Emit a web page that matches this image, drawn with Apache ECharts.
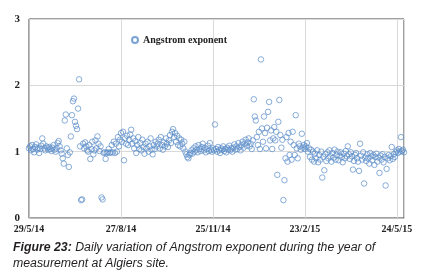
<!DOCTYPE html>
<html>
<head>
<meta charset="utf-8">
<style>
  html, body { margin: 0; padding: 0; background: #fff; }
  #chart { width: 427px; height: 277px; }
</style>
<script src="https://cdn.jsdelivr.net/npm/echarts@6/dist/echarts.min.js"></script>
</head>
<body>
<div id="chart"></div>
<script>
// daily Angstrom exponent, day 0 = 29/5/14
var startDate = Date.UTC(2014, 4, 29);
var seriesName = 'Angstrom exponent';
var yTicks = [0, 1, 2, 3];
var angstrom = [
  1.05, 1.08, 1.02, 1.10, 1.04, 0.99, 1.07, 1.11, 1.03, 1.06,
  0.98, 1.04, 1.09, 1.20, 1.12, 1.05, 1.02, 1.08, 1.06, 1.03,
  1.07, 1.04, 1.01, 1.06, 1.10, 1.03, 1.00, 1.05, 1.13, 1.16,
  1.08, 1.02, 0.97, 0.90, 0.82, 1.47, 1.56, 1.05, 0.95, 0.77,
  0.99, 1.23, 1.55, 1.76, 1.80, 1.45, 1.39, 1.34, 1.65, 2.09,
  1.08, 0.27, 0.28, 1.12, 1.05, 1.14, 1.08, 1.02, 1.00, 1.10,
  0.89, 1.04, 1.15, 0.96, 1.02, 1.17, 1.05, 1.23, 1.12, 1.01,
  1.08, 0.31, 0.28, 0.98, 0.99, 0.89, 0.98, 0.99, 1.04, 0.98,
  0.99, 1.10, 0.99, 1.15, 0.98, 1.12, 1.00, 1.22, 1.08, 1.18,
  1.28, 1.15, 1.30, 0.87, 1.20, 1.12, 1.24, 1.10, 1.18, 1.26,
  1.33, 1.12, 1.20, 1.05, 1.16, 0.98, 1.10, 1.22, 1.04, 1.13,
  1.02, 1.18, 1.07, 0.97, 1.12, 1.05, 1.15, 1.00, 1.08, 1.20,
  1.03, 0.96, 1.10, 1.04, 1.15, 1.08, 1.12, 1.18, 1.05, 1.22,
  1.10, 1.03, 1.14, 1.08, 1.20, 1.12, 1.07, 1.17, 1.25, 1.13,
  1.30, 1.34, 1.22, 1.28, 1.15, 1.24, 1.10, 1.20, 1.08, 1.18,
  1.12, 1.05, 1.15, 1.00, 0.96, 0.92, 0.90, 0.95, 0.98, 1.02,
  0.97, 1.05, 1.00, 1.08, 1.03, 0.99, 1.10, 1.04, 1.01, 1.07,
  1.12, 1.02, 1.06, 0.99, 1.04, 1.09, 1.01, 1.13, 1.03, 1.00,
  1.05, 1.02, 1.41, 1.04, 1.00, 1.07, 1.02, 0.98, 1.05, 1.03,
  1.08, 1.01, 1.04, 0.99, 1.06, 1.03, 1.09, 1.02, 1.05, 1.00,
  1.06, 1.11, 1.03, 1.08, 1.04, 1.13, 1.07, 1.02, 1.10, 1.15,
  1.06, 1.12, 1.18, 1.09, 1.14, 1.20, 1.08, 1.12, 1.04, 1.17,
  1.79, 1.53, 1.47, 1.22, 1.10, 1.30, 1.04, 2.39, 1.35, 1.15,
  1.53, 1.28, 1.05, 1.36, 1.60, 1.75, 1.17, 1.32, 1.04, 1.20,
  1.37, 1.17, 1.30, 0.65, 1.45, 1.78, 1.25, 1.06, 1.18, 0.27,
  0.57, 0.90, 1.22, 0.85, 1.28, 0.95, 1.15, 0.88, 1.30, 1.10,
  0.95, 1.55, 1.05, 0.90, 1.12, 1.08, 1.03, 1.27, 1.06, 1.10,
  1.04, 1.08, 1.13, 1.00, 1.05, 0.92, 1.03, 0.88, 1.00, 0.85,
  0.97, 0.90, 1.02, 0.84, 0.95, 0.88, 1.00, 0.61, 0.92, 0.72,
  0.96, 0.86, 0.99, 0.90, 1.02, 0.93, 0.85, 0.98, 0.91, 1.03,
  0.88, 0.95, 1.00, 0.87, 0.94, 0.99, 0.92, 0.84, 0.97, 0.90,
  1.01, 0.93, 1.08, 0.96, 0.89, 0.99, 0.93, 0.73, 0.86, 0.95,
  0.98, 0.90, 0.85, 0.71, 1.12, 0.94, 0.88, 0.99, 0.52, 0.91,
  0.86, 0.96, 0.90, 0.82, 0.98, 0.93, 0.87, 0.95, 0.80, 0.92,
  0.97, 0.85, 0.91, 0.68, 0.94, 0.88, 0.96, 0.84, 0.92, 0.49,
  0.74, 0.90, 0.95, 0.87, 0.93, 1.07, 0.89, 0.96, 0.92, 0.99,
  1.02, 0.98, 1.04, 1.00, 1.22, 1.01, 1.03, 0.99
];
var captionBold = 'Figure 23:';
var captionLine1 = ' Daily variation of Angstrom exponent during the year of';
var captionLine2 = 'measurement at Algiers site.';

var chart = echarts.init(document.getElementById('chart'));
var blue = '#5a8dc8';
var grey = '#d9d9d9';
var serif = '"Liberation Serif", "Times New Roman", serif';
var capFont = '"Liberation Sans", Arial, sans-serif';

function dayLabel(v) {
  if (v % 90 !== 0) return '';
  var d = new Date(startDate + v * 86400000);
  return d.getUTCDate() + '/' + (d.getUTCMonth() + 1) + '/' + String(d.getUTCFullYear()).slice(2);
}

chart.setOption({
  animation: false,
  grid: {
    left: 29, right: 23, top: 19, bottom: 59,
    show: true, borderColor: '#404040', borderWidth: 1
  },
  legend: {
    data: [seriesName],
    left: 126, top: 30,
    itemWidth: 6, itemHeight: 6, itemGap: 4,
    textStyle: { fontFamily: serif, fontWeight: 'bold', fontSize: 10, color: '#222' }
  },
  xAxis: {
    type: 'value',
    min: 0, max: 367, interval: 90,
    axisLine: { lineStyle: { color: '#bfbfbf' } },
    axisTick: { show: false },
    splitLine: { lineStyle: { color: grey } },
    axisLabel: {
      formatter: dayLabel, margin: 6,
      fontFamily: serif, fontWeight: 'bold', fontSize: 10, color: '#222'
    }
  },
  yAxis: {
    type: 'value',
    min: yTicks[0], max: yTicks[yTicks.length - 1], interval: 1,
    axisLine: { show: true, lineStyle: { color: '#bfbfbf' } },
    axisTick: { show: false },
    splitLine: { lineStyle: { color: grey } },
    axisLabel: { margin: 9, fontFamily: serif, fontWeight: 'bold', fontSize: 11, color: '#222' }
  },
  series: [{
    name: seriesName,
    type: 'scatter',
    symbol: 'circle',
    symbolSize: 5.5,
    itemStyle: { color: 'rgba(255,255,255,0)', borderColor: blue, borderWidth: 0.9 },
    data: angstrom.map(function(v, i) { return [i, v]; })
  }],
  graphic: [
    {
      type: 'text', left: 13, top: 242,
      style: {
        text: '{b|' + captionBold + '}' + captionLine1,
        font: 'italic 12.3px ' + capFont,
        fill: '#231f20',
        rich: { b: { fontWeight: 'bold', fontStyle: 'italic', fontSize: 12.3, fontFamily: capFont, fill: '#231f20' } }
      }
    },
    {
      type: 'text', left: 13, top: 258,
      style: { text: captionLine2, font: 'italic 12.3px ' + capFont, fill: '#231f20' }
    }
  ]
});
window.addEventListener('resize', function() { chart.resize(); });
</script>
</body>
</html>
